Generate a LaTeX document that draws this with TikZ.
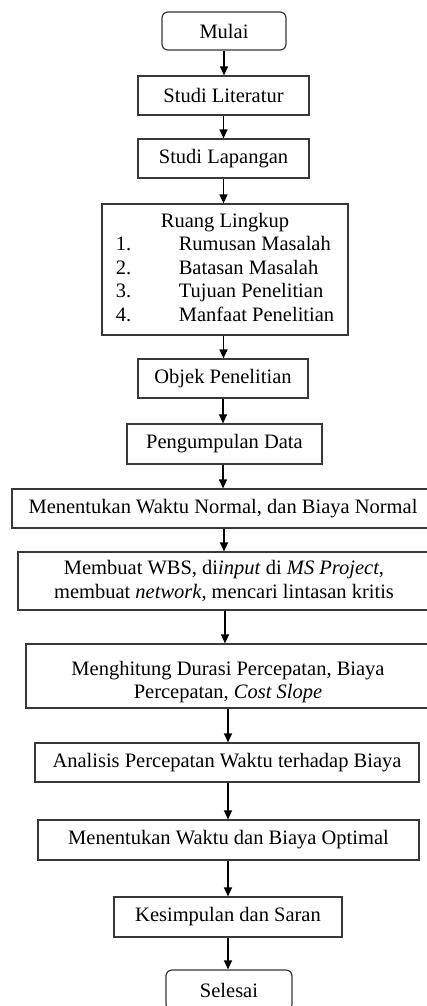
\documentclass[tikz,border=0pt]{standalone}
\usepackage{fontspec}
\setmainfont{Liberation Serif}
\usetikzlibrary{arrows.meta}
\begin{document}
\begin{tikzpicture}[x=1pt,y=-1pt,
  every node/.style={font=\fontsize{20.5}{23.5}\selectfont, inner sep=0pt},
  box/.style={draw=black!78, line width=1.2pt, rectangle},
  term/.style={box, rounded corners=6pt},
  arr/.style={draw=black, line width=1.3pt, -{Triangle[length=9pt,width=8pt]}}]
\useasboundingbox (0,0) rectangle (426,1006);
\node[term, minimum width=124pt, minimum height=38pt] (mulai) at (224,31) {Mulai};
\node[box, minimum width=171pt, minimum height=39pt] (lit) at (223.5,95.5) {Studi Literatur};
\node[box, minimum width=171pt, minimum height=39pt] (lap) at (223.5,158.5) {Studi Lapangan};
\node[box, minimum width=246pt, minimum height=131pt] (ruang) at (225,269.5) {%
  \begin{tabular}{@{}p{63pt}@{}l@{}}
  \multicolumn{2}{@{}c@{}}{Ruang Lingkup}\\
  1. & Rumusan Masalah\\
  2. & Batasan Masalah\\
  3. & Tujuan Penelitian\\
  4. & Manfaat Penelitian
  \end{tabular}};
\node[box, minimum width=170pt, minimum height=39pt] (objek) at (223,378.5) {Objek Penelitian};
\node[box, minimum width=195pt, minimum height=40pt] (data) at (224.5,444) {Pengumpulan Data};
\node[box, minimum width=422pt, minimum height=39pt] (normal) at (223,508.5) {Menentukan Waktu Normal, dan Biaya Normal};
\node[box, minimum width=412pt, minimum height=58pt, align=center] (wbs) at (224,581) {Membuat WBS, di\textit{input} di \textit{MS Project},\\membuat \textit{network}, mencari lintasan kritis};
\node[box, minimum width=404pt, minimum height=64pt] (hitung) at (228,676) {};
\node[align=center] (hitungtext) at (228,682) {Menghitung Durasi Percepatan, Biaya\\Percepatan, \textit{Cost Slope}};
\node[box, minimum width=384pt, minimum height=39pt] (analisis) at (227,762.5) {Analisis Percepatan Waktu terhadap Biaya};
\node[box, minimum width=381pt, minimum height=40pt] (optimal) at (228.5,840) {Menentukan Waktu dan Biaya Optimal};
\node[box, minimum width=228pt, minimum height=40pt] (saran) at (228,917) {Kesimpulan dan Saran};
\node[term, minimum width=126pt, minimum height=40pt] (selesai) at (229,990) {Selesai};
\draw[arr] (mulai.south) -- (mulai.south |- lit.north);
\draw[arr] (lit.south) -- (lit.south |- lap.north);
\draw[arr] (lap.south) -- (lap.south |- ruang.north);
\draw[arr] (ruang.south -| lap.south) -- (objek.north -| lap.south);
\draw[arr] (objek.south) -- (objek.south |- data.north);
\draw[arr] (data.south -| objek.south) -- (normal.north -| objek.south);
\draw[arr] (normal.south -| mulai.south) -- (wbs.north -| mulai.south);
\draw[arr] (wbs.south) ++(1,0) coordinate (w1) -- (w1 |- hitung.north);
\draw[arr] (hitung.south) -- (hitung.south |- analisis.north);
\draw[arr] (analisis.south -| hitung.south) -- (optimal.north -| hitung.south);
\draw[arr] (optimal.south -| saran.south) -- (saran.north);
\draw[arr] (saran.south) -- (saran.south |- selesai.north);
\end{tikzpicture}
\end{document}
